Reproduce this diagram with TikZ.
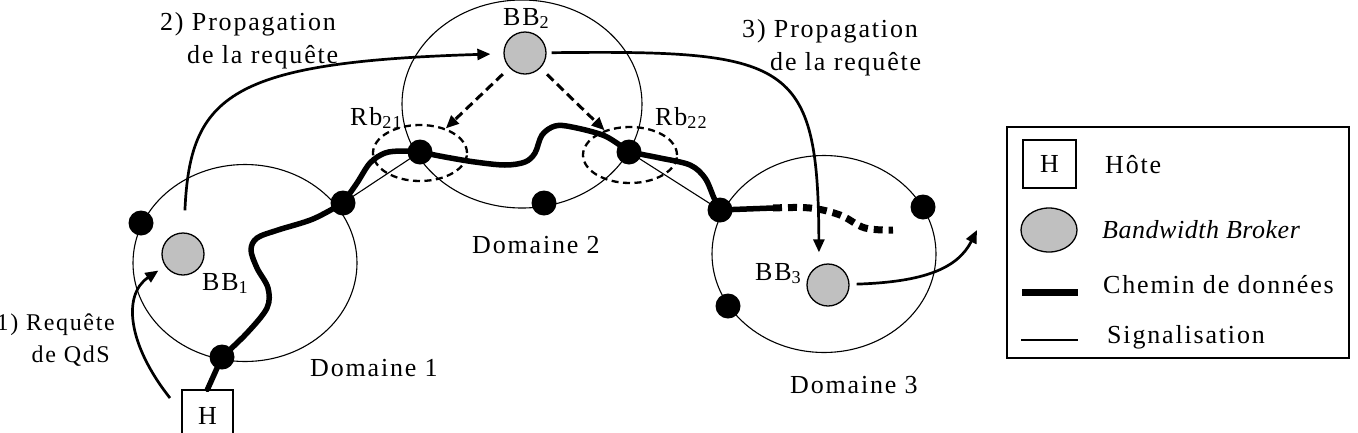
\documentclass[tikz,border=0pt]{standalone}
\usepackage{fontspec}
\setmainfont{Liberation Serif}[LetterSpace=7, ItalicFeatures={LetterSpace=2}]
\usetikzlibrary{arrows.meta,shapes.geometric,backgrounds}
\definecolor{bbgray}{RGB}{192,192,192}
\begin{document}
\begin{tikzpicture}[x=1pt,y=-1pt,
  every node/.style={font=\fontsize{26}{33}\selectfont},
  domcircle/.style={draw, ellipse, line width=1.1pt, inner sep=0},
  dot/.style={circle, fill=black, minimum size=25pt, inner sep=0},
  bb/.style={circle, draw, line width=1.3pt, fill=bbgray, minimum size=42pt, inner sep=0},
  lbl/.style={inner sep=0, anchor=base west},
  rbell/.style={ellipse, draw, dash pattern=on 7pt off 4.5pt, line width=2.3pt, minimum width=94pt, minimum height=56pt, inner sep=0},
  arr/.style={line width=2.7pt, -{Triangle[length=13pt,width=11pt]}},
  dasharr/.style={arr, line width=3pt, dash pattern=on 9pt off 5pt},
  data/.style={line width=5.5pt, line cap=round, line join=round},
  sig/.style={line width=1.1pt},
  hostbox/.style={draw, line width=1.3pt, inner sep=0}
]
\useasboundingbox (0,0) rectangle (1358,432);

% domains
\node[domcircle, minimum width=224pt, minimum height=197pt] (dom1) at (245,263) {};
\node[domcircle, minimum width=240pt, minimum height=208pt] (dom2) at (522,104) {};
\node[domcircle, minimum width=224pt, minimum height=197pt] (dom3) at (824,254) {};

% Rb ellipses
\node[rbell] (rb21) at (420,153) {};
\node[rbell] (rb22) at (630,155) {};

% dots
\node[dot] (da) at (141,223) {};
\node[dot] (db) at (343,203) {};
\node[dot] (dc) at (222,357) {};
\node[dot] (drb21) at (420,152) {};
\node[dot] (drb22) at (629,152) {};
\node[dot] (dd2) at (544,203) {};
\node[dot] (dd3a) at (720,210) {};
\node[dot] (dd3b) at (923,207) {};
\node[dot] (dd3c) at (728,306) {};

% bandwidth brokers
\node[bb] (bb1) at (183,254) {};
\node[bb] (bb2) at (525,53) {};
\node[bb] (bb3) at (828,285) {};

% host
\node[hostbox, minimum width=51pt, minimum height=52pt] (host) at (207.5,416) {H};

% labels
\node[lbl] (lbb1) at (202,290) {BB\textsubscript{1}};
\node[lbl] (lbb2) at (503,25) {BB\textsubscript{2}};
\node[lbl] (lbb3) at (755,280) {BB\textsubscript{3}};
\node[lbl] (lrb21) at (350,125) {Rb\textsubscript{21}};
\node[lbl] (lrb22) at (655,125) {Rb\textsubscript{22}};
\node[lbl] (ldom1) at (310,376) {Domaine 1};
\node[lbl] (ldom2) at (472,253) {Domaine 2};
\node[lbl] (ldom3) at (790,393) {Domaine 3};
\node[inner sep=0, anchor=base west, align=left] (lprop2) at (160,63) {2) Propagation\\\hspace*{27pt}de la requête};
\node[inner sep=0, anchor=base west, align=left] (lprop3) at (742,70) {3) Propagation\\\hspace*{28pt}de la requête};
\node[inner sep=0, anchor=base east, align=right, font=\fontsize{24}{32}\selectfont] (lreq) at (115,362) {1) Requête\\de QdS\hspace*{5pt}};

% legend
\node[draw, line width=1.6pt, minimum width=342pt, minimum height=231pt, inner sep=0] (legend) at (1178,242.5) {};
\node[hostbox, minimum width=53pt, minimum height=48pt] (legH) at (1049.5,164) {H};
\node[ellipse, draw, line width=1.3pt, fill=bbgray, minimum width=56pt, minimum height=44pt, inner sep=0] (legBB) at (1049,230) {};
\coordinate (legD1) at (1022,292);
\coordinate (legD2) at (1078,292);
\coordinate (legS1) at (1021,340);
\coordinate (legS2) at (1078,340);
\node[lbl] (tH) at (1105,173) {Hôte};
\node[lbl] (tBB) at (1102,238) {\textit{Bandwidth Broker}};
\node[lbl] (tD) at (1103,293) {Chemin de données};
\node[lbl] (tS) at (1107,343) {Signalisation};

\coordinate (q1) at (170,398);
\coordinate (pend) at (773,208);
\coordinate (a4) at (977,230);

\begin{scope}[on background layer]
  % legend samples
  \draw[line width=7pt] (legD1) -- (legD2);
  \draw[sig] (legS1) -- (legS2);
  % signalling lines
  \draw[sig] (db.center) -- (drb21.center);
  \draw[sig] (drb22.center) -- (dd3a.center);
  % data path
  \draw[data] (host.north) -- (dc.center);
  \draw[data] plot[smooth, tension=0.55] coordinates {(dc.center) (247,333) (267,308) (268,288) (257,268) (251,250) (257,238) (278,230) (313,219) (db.center)};
  \draw[data] plot[smooth, tension=0.55] coordinates {(db.center) (357,183) (370,163) (385,153) (402,151) (drb21.center)};
  \draw[data] plot[smooth, tension=0.55] coordinates {(drb21.center) (445,157) (475,162) (505,165) (525,162) (535,153) (542,135) (555,126) (572,127) (605,136) (drb22.center)};
  \draw[data] plot[smooth, tension=0.55] coordinates {(drb22.center) (660,158) (690,165) (705,178) (714,198) (dd3a.center)};
  \draw[data] (dd3a.center) -- (pend);
  \draw[line width=7pt, dash pattern=on 9pt off 6pt] plot[smooth, tension=0.6] coordinates {(pend) (810,208) (840,215) (865,228) (893,230)};
\end{scope}

% arrows
\draw[arr, shorten >=8pt] (q1) .. controls (128,345) and (122,295) .. (bb1);
\draw[arr, shorten <=22pt, shorten >=13pt] (bb1) .. controls (190,95) and (230,62) .. (bb2);
\draw[arr, shorten <=5pt, shorten >=11pt] (bb2) .. controls (790,50) and (818,60) .. ([xshift=-9pt]bb3.north);
\draw[arr, shorten <=7pt] (bb3) .. controls (925,282) and (958,268) .. (a4);
\draw[dasharr, shorten <=9pt] (bb2) -- (rb21);
\draw[dasharr, shorten <=9pt] (bb2) -- (rb22);
\end{tikzpicture}
\end{document}
